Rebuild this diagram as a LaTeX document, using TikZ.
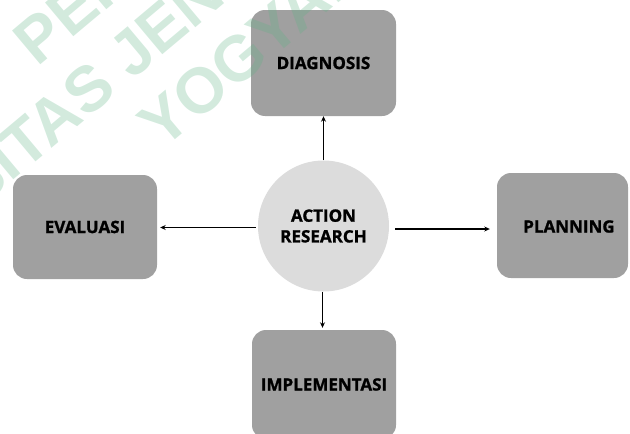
\documentclass[tikz,border=0pt]{standalone}
\usepackage{fontspec}
\setmainfont{Open Sans}[BoldFeatures={FakeBold=1.2}]
\newfontfamily\wmfont{Liberation Sans}
\usetikzlibrary{arrows.meta}
\definecolor{boxgray}{RGB}{160,160,160}
\definecolor{circgray}{RGB}{220,220,220}
\definecolor{wmgreen}{RGB}{91,179,131}
\begin{document}
\begin{tikzpicture}[x=1pt,y=-1pt,
  box/.style={fill=boxgray, rounded corners=14pt, draw=none, inner sep=0pt},
  lbl/.style={font=\bfseries\fontsize{17}{20.7}\selectfont, text=black},
  arr/.style={draw=black, line width=1.2pt, -{Stealth[length=5.5pt,width=5pt]}},
  wm/.style={font=\wmfont\bfseries\fontsize{64}{64}\selectfont, text=wmgreen, text opacity=0.27, rotate=40, anchor=base, inner sep=0pt}]
\useasboundingbox (0,0) rectangle (630,434);
\begin{scope}
\clip (0,0) rectangle (630,434);
% boxes
\node[box, lbl, minimum width=145pt, minimum height=106pt] (diag) at (323.5,63) {DIAGNOSIS};
\node[box, lbl, minimum width=144pt, minimum height=104pt] (eval) at (85,227) {EVALUASI};
\node[box, minimum width=131pt, minimum height=105pt] (plan) at (562.5,225.5) {};
\node[lbl] (plantext) at (569,226.5) {PLANNING};
\node[box, lbl, minimum width=144pt, minimum height=109pt] (impl) at (324,384.5) {IMPLEMENTASI};
% centre
\node[circle, fill=circgray, minimum size=131pt, inner sep=0pt, align=center, lbl] (ar) at (323.5,226) {ACTION\\RESEARCH};
% arrows
\draw[arr] (ar.north) -- (ar.north |- diag.south);
\draw[arr, shorten <=2pt, shorten >=3pt] ([yshift=-1.5pt]ar.west) -- ([yshift=-1.5pt]ar.west -| eval.east);
\draw[arr, shorten <=6pt, shorten >=7pt] ([yshift=-3pt]ar.east) -- ([yshift=-3pt]ar.east -| plan.west);
\draw[arr, shorten >=2pt] ([xshift=-1pt]ar.south) -- ([xshift=-1pt]ar.south |- impl.north);
% watermark
\node[wm] (wm1) at (240.4,-102.5) {PERPUSTAKAAN};
\node[wm] (wm2) at (273.7,-37.9) {UNIVERSITAS JENDERAL ACHMAD YANI};
\node[wm] (wm3) at (333,7.8) {YOGYAKARTA};
\end{scope}
\end{tikzpicture}
\end{document}
